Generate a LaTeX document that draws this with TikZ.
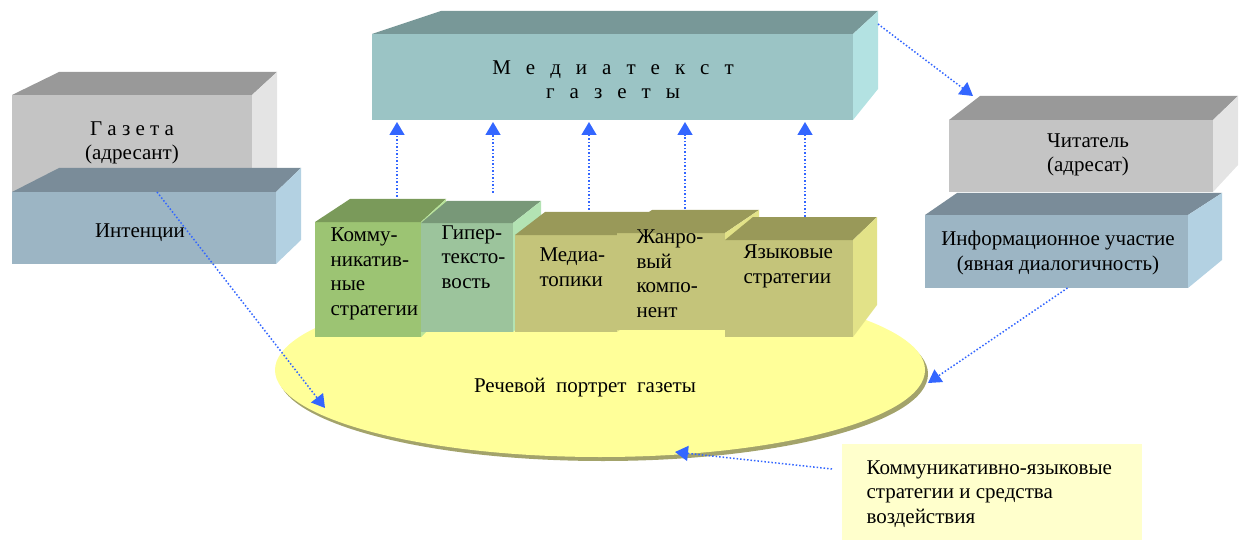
\documentclass[tikz,border=0pt]{standalone}
\usepackage{fontspec}
\setmainfont{Liberation Serif}
\usetikzlibrary{arrows.meta,shapes.geometric,shadows}

\definecolor{mtfront}{HTML}{9BC4C5}
\definecolor{mttop}{HTML}{789898}
\definecolor{mtside}{HTML}{B3E2E2}
\definecolor{grfront}{HTML}{C4C4C4}
\definecolor{grtop}{HTML}{999999}
\definecolor{grside}{HTML}{E4E4E4}
\definecolor{blfront}{HTML}{9CB5C4}
\definecolor{bltop}{HTML}{7A8C99}
\definecolor{blside}{HTML}{B3D1E2}
\definecolor{gnfront}{HTML}{9CC473}
\definecolor{gntop}{HTML}{7A9A5A}
\definecolor{gnside}{HTML}{B8E39A}
\definecolor{sgfront}{HTML}{9CC49C}
\definecolor{sgtop}{HTML}{789878}
\definecolor{sgside}{HTML}{B3E3B3}
\definecolor{olfront}{HTML}{C4C47A}
\definecolor{oltop}{HTML}{999959}
\definecolor{olside}{HTML}{E2E288}
\definecolor{ellfill}{HTML}{FFFF99}
\definecolor{ellshadow}{HTML}{A3A36B}
\definecolor{notefill}{HTML}{FFFFCC}
\definecolor{linkblue}{HTML}{3366FF}

% top and side faces of a box: node, top colour, side colour,
% back-left shift, back-right shift, rise of top, rise of side bottom
\newcommand{\cubefaces}[7]{%
  \fill[#2] (#1.north west) -- ++(#4,-#6) -- ([shift={(#5,-#6)}]#1.north east) -- (#1.north east) -- cycle;
  \fill[#3] (#1.north east) -- ++(#5,-#6) -- ([shift={(#5,-#7)}]#1.south east) -- (#1.south east) -- cycle;
}

\begin{document}
\begin{tikzpicture}[x=1pt, y=-1pt,
  font=\rmfamily\fontsize{21}{24.5}\selectfont,
  face/.style={fill=#1, inner sep=0pt, outer sep=0pt, anchor=north west},
  link/.style={draw=linkblue, line width=1.5pt, dash pattern=on 1.5pt off 2pt,
    -{Triangle[length=13pt,width=15pt]}},
  ]
\useasboundingbox (0,0) rectangle (1247,540);

% speech portrait
\node[ellipse, fill=ellfill, minimum width=650pt, minimum height=174pt, inner sep=0pt,
  drop shadow={shadow xshift=3pt, shadow yshift=-4pt, fill=ellshadow, opacity=1}] (portrait) at (600,370) {};

% media text
\node[face=mtfront, minimum width=481pt, minimum height=86pt] (mediatext) at (372,34) {};
\cubefaces{mediatext}{mttop}{mtside}{69}{25}{23}{31}

% sender side
\node[face=grfront, minimum width=240pt, minimum height=97pt] (gazeta) at (12,95) {};
\cubefaces{gazeta}{grtop}{grside}{47}{25}{23}{24}
\node[face=blfront, minimum width=264pt, minimum height=72pt] (intent) at (12,192) {};
\cubefaces{intent}{bltop}{blside}{47}{25}{24}{24}

% reader side
\node[face=grfront, minimum width=264pt, minimum height=72pt] (chitatel) at (949,120) {};
\cubefaces{chitatel}{grtop}{grside}{31}{25}{24}{27}
\node[face=blfront, minimum width=263pt, minimum height=73pt] (info) at (925,215) {};
\cubefaces{info}{bltop}{blside}{32}{34}{22}{28}

% components
\node[face=gnfront, minimum width=106pt, minimum height=115pt] (komm) at (315,222) {};
\cubefaces{komm}{gntop}{gnside}{35}{25}{23}{25}
\node[face=sgfront, minimum width=92pt, minimum height=109pt] (giper) at (421,223) {};
\cubefaces{giper}{sgtop}{sgside}{26}{28}{22}{25}
\node[face=olfront, minimum width=102pt, minimum height=97pt] (mtopics) at (515,235) {};
\cubefaces{mtopics}{oltop}{olside}{30}{35}{23}{25}
\node[face=olfront, minimum width=108pt, minimum height=97pt] (zhanr) at (617,233) {};
\cubefaces{zhanr}{oltop}{olside}{35}{34}{23}{25}
\node[face=olfront, minimum width=128pt, minimum height=97pt] (yazyk) at (725,240) {};
\cubefaces{yazyk}{oltop}{olside}{28}{24}{23}{32}

% note
\node[face=notefill, minimum width=300pt, minimum height=96pt] (note) at (842,444) {};

% labels (anchored at the baseline of the last line)
\node[anchor=base, align=center] (mediatext-txt) at (613,99)
  {\spaceskip=15pt М е д и а т е к с т\\\spaceskip=15pt г а з е т ы};
\node[anchor=base, align=center] (gazeta-txt) at (132,160) {Г а з е т а\\(адресант)};
\node[anchor=base] (intent-txt) at (140,237) {Интенции};
\node[anchor=base, align=center] (chitatel-txt) at (1088,172) {Читатель\\(адресат)};
\node[anchor=base, align=center] (info-txt) at (1058,270) {Информационное участие\\(явная диалогичность)};
\node[anchor=base west, align=left] (komm-txt) at (327,315) {Комму-\\никатив-\\ные\\стратегии};
\node[anchor=base west, align=left] (giper-txt) at (438,288) {Гипер-\\тексто-\\вость};
\node[anchor=base west, align=left] (mtopics-txt) at (536,286) {Медиа-\\топики};
\node[anchor=base west, align=left] (zhanr-txt) at (633,317) {Жанро-\\вый\\компо-\\нент};
\node[anchor=base west, align=left] (yazyk-txt) at (740,283) {Языковые\\стратегии};
\node[anchor=base] (portrait-txt) at (585,392) {Речевой\ \ портрет\ \ газеты};
\node[anchor=base west, align=left] (note-txt) at (863,523)
  {Коммуникативно-языковые\\стратегии и средства\\воздействия};

% arrows
\foreach \b/\dx/\dy in {komm/29/25, giper/26/30, mtopics/23/25, zhanr/14/24, yazyk/16/23}
  \draw[link, shorten >=2pt] ([shift={(\dx,-\dy)}]\b.north) -- ([xshift=\dx pt]\b.north |- mediatext.south);
\draw[link] ([shift={(25,-10)}]mediatext.north east) -- ([shift={(24,-24)}]chitatel.north west);
\coordinate (tip-a) at ([shift={(-275,38)}]portrait.center);
\coordinate (tip-b) at ([shift={(328,13)}]portrait.center);
\coordinate (tip-c) at ([shift={(75,82)}]portrait.center);
\draw[link] ([xshift=25pt]gazeta.south) -- (tip-a);
\draw[link] ([xshift=11pt]info.south) -- (tip-b);
\draw[link] ([shift={(-10,-23)}]note.west) -- (tip-c);
\end{tikzpicture}
\end{document}
